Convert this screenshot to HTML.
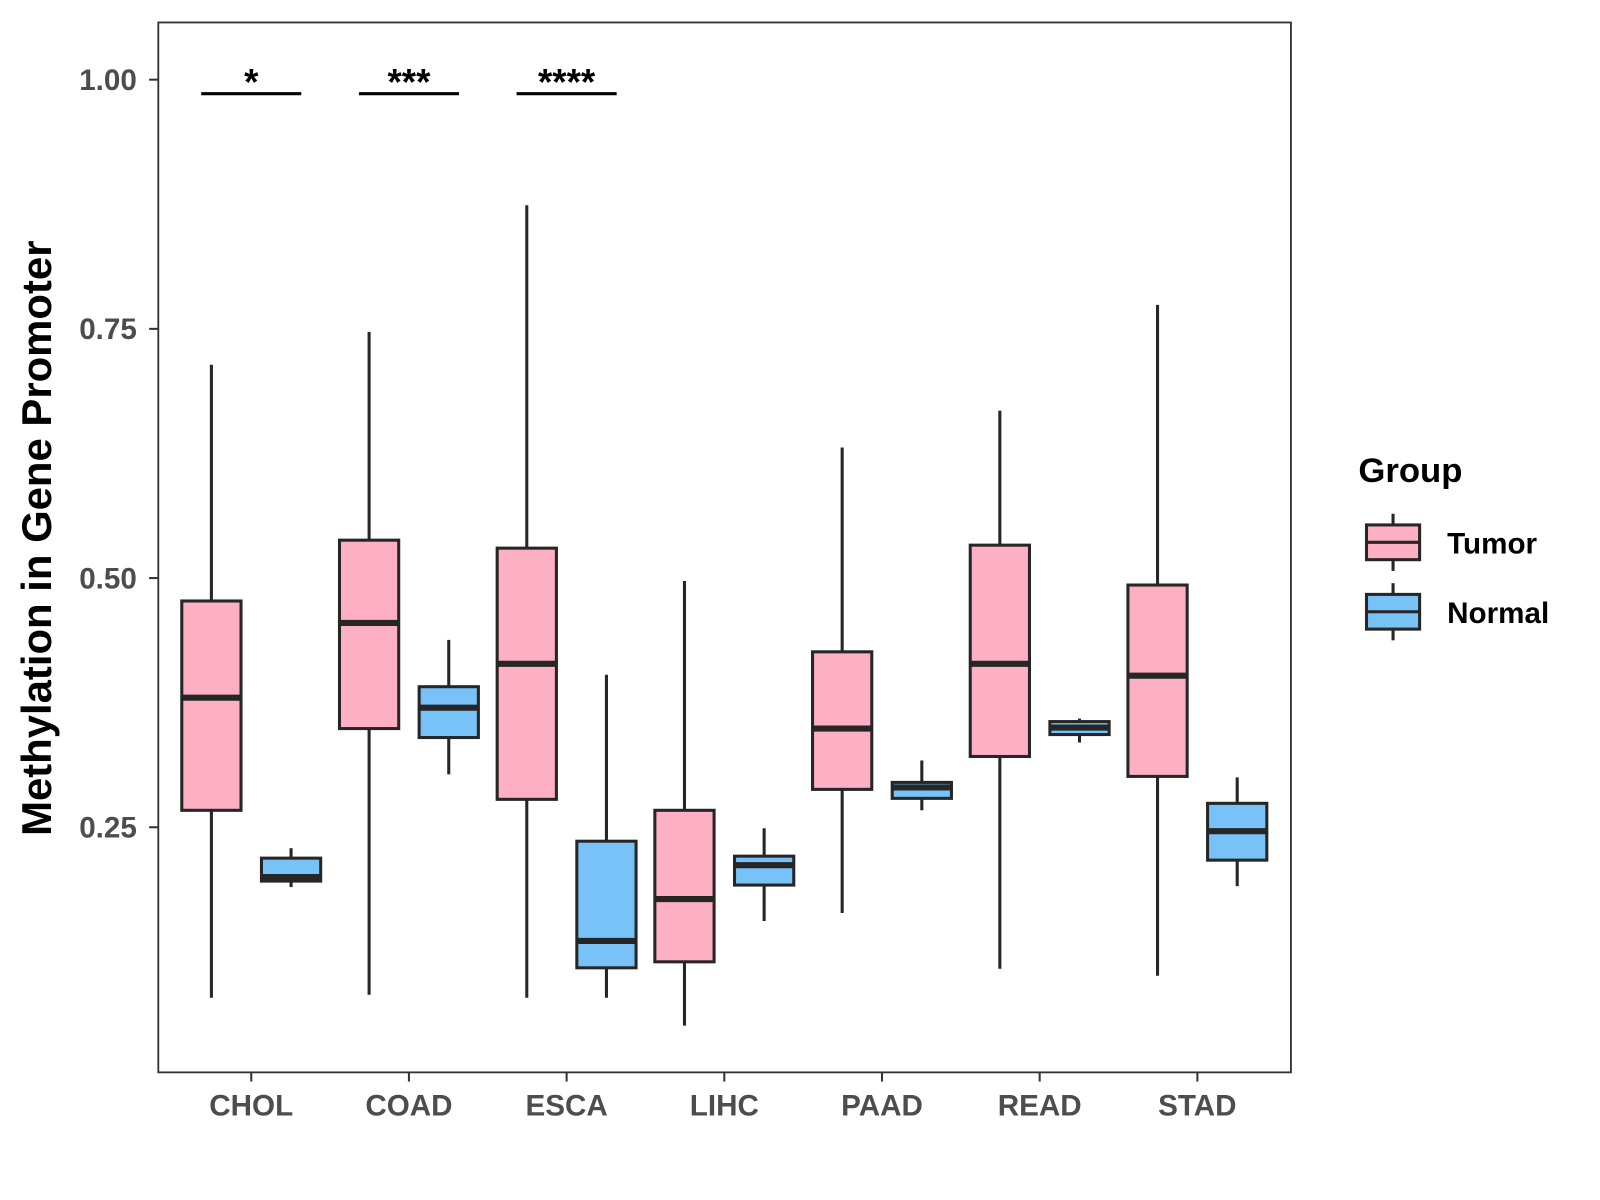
<!DOCTYPE html>
<html><head><meta charset="utf-8"><style>body{margin:0;background:#fff}svg{display:block}</style></head>
<body>
<svg width="1600" height="1200" xmlns="http://www.w3.org/2000/svg" font-family="Liberation Sans, Arial, sans-serif"><g id="chart" transform="scale(1.0213)"></g></svg>
<script>
const categories=["CHOL","COAD","ESCA","LIHC","PAAD","READ","STAD"];
const tumorStats=[[0.079,0.267,0.380,0.477,0.714],[0.082,0.349,0.455,0.538,0.747],[0.079,0.278,0.414,0.530,0.874],[0.051,0.115,0.178,0.267,0.497],[0.164,0.288,0.349,0.426,0.631],[0.108,0.321,0.414,0.533,0.668],[0.101,0.301,0.402,0.493,0.774]];
const normalStats=[[0.190,0.196,0.200,0.219,0.229],[0.303,0.340,0.370,0.391,0.438],[0.079,0.109,0.136,0.236,0.403],[0.156,0.192,0.212,0.221,0.249],[0.267,0.279,0.290,0.295,0.317],[0.335,0.343,0.350,0.356,0.359],[0.191,0.217,0.246,0.274,0.300]];
const yTicks=[0.25,0.5,0.75,1.0];
const yTickLabels=["0.25","0.50","0.75","1.00"];
const sigLabels=["*","***","****"];
const sigCats=[0,1,2];
const sigY=0.988;

const svg=document.getElementById('chart');
const NS="http://www.w3.org/2000/svg";
const P={l:155,r:1264,t:22,b:1050};
const y=v=>78+(1-v)*976;
const x=i=>246+i*154.4;
const OFF=39,BW=58;
function el(tag,a,parent){const e=document.createElementNS(NS,tag);for(const k in a)e.setAttribute(k,a[k]);(parent||svg).appendChild(e);return e;}

const panel=el('rect',{x:P.l,y:P.t,width:P.r-P.l,height:P.b-P.t,fill:'#fff',stroke:'#333','stroke-width':1.8});



yTicks.forEach((t,i)=>{
  const tk=el('line',{x1:P.l-9,x2:P.l,y1:y(t),y2:y(t),stroke:'#333','stroke-width':2});
  
  
  const lb=el('text',{x:P.l-21,y:y(t)+10,'text-anchor':'end','font-size':29,'font-weight':'bold',fill:'#4d4d4d'});
  lb.textContent=yTickLabels[i];
  
  
});
categories.forEach((c,i)=>{
  const tk=el('line',{x1:x(i),x2:x(i),y1:P.b,y2:P.b+9,stroke:'#333','stroke-width':2});
  
  
  const lb=el('text',{x:x(i),y:1092,'text-anchor':'middle','font-size':29,'font-weight':'bold',fill:'#4d4d4d'});
  lb.textContent=c;
  
  
});

function box(cx,s,fill,name){
  const g=el('g',{});
  
  
  el('line',{x1:cx,x2:cx,y1:y(s[4]),y2:y(s[0]),stroke:'#262626','stroke-width':3},g);
  el('rect',{x:cx-BW/2,y:y(s[3]),width:BW,height:Math.max(y(s[1])-y(s[3]),1),fill:fill,stroke:'#262626','stroke-width':3},g);
  el('line',{x1:cx-BW/2,x2:cx+BW/2,y1:y(s[2]),y2:y(s[2]),stroke:'#262626','stroke-width':6},g);
}
categories.forEach((c,i)=>{
  box(x(i)-OFF,tumorStats[i],'#FDB0C3','box-tumor-'+c.toLowerCase());
  box(x(i)+OFF,normalStats[i],'#78C2F8','box-normal-'+c.toLowerCase());
});
sigCats.forEach((ci,k)=>{
  const ln=el('line',{x1:x(ci)-49,x2:x(ci)+49,y1:y(sigY)+2,y2:y(sigY)+2,stroke:'#000','stroke-width':3});
  
  
  const t=el('text',{x:x(ci),y:y(sigY)+3,'text-anchor':'middle','font-size':36,'font-weight':'bold',fill:'#000'});
  t.textContent=sigLabels[k];
  
  
});
const yt=el('text',{x:0,y:0,transform:'translate(50,527) rotate(-90)','text-anchor':'middle','font-size':41,'font-weight':'bold',fill:'#000'});
yt.textContent='Methylation in Gene Promoter';



const lt=el('text',{x:1330,y:472,'font-size':34,'font-weight':'bold',fill:'#000'});
lt.textContent='Group';


[['Tumor','#FDB0C3',531],['Normal','#78C2F8',599]].forEach(([n,f,cy])=>{
  const g=el('g',{});
  
  
  el('line',{x1:1364,x2:1364,y1:cy-28,y2:cy+28,stroke:'#262626','stroke-width':3},g);
  el('rect',{x:1338,y:cy-17,width:52,height:34,fill:f,stroke:'#262626','stroke-width':3},g);
  el('line',{x1:1338,x2:1390,y1:cy,y2:cy,stroke:'#262626','stroke-width':3},g);
  const t=el('text',{x:1417,y:cy+11,'font-size':29,'font-weight':'bold',fill:'#000'},g);
  t.textContent=n;
});
</script>
</body></html>
